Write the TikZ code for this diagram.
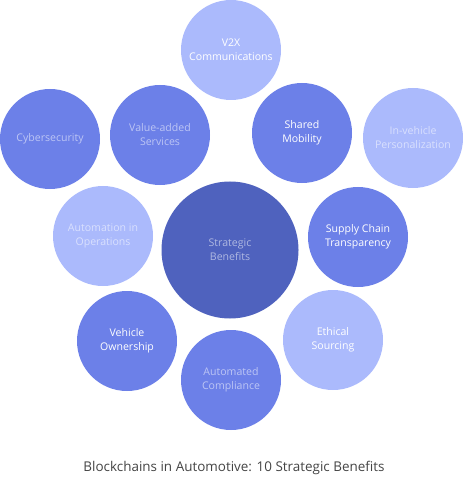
\documentclass[tikz,border=0pt]{standalone}
\usepackage{fontspec}
\setmainfont{Open Sans}
\usetikzlibrary{positioning}
\definecolor{paleblob}{HTML}{ABBAFC}
\definecolor{midblob}{HTML}{6C80E8}
\definecolor{coreblob}{HTML}{4F62BE}
\definecolor{captiongray}{HTML}{444444}

\begin{document}
\begin{tikzpicture}[x=1bp, y=-1bp, font=\fontsize{10.6}{14}\selectfont,
    blob/.style={circle, minimum size=100bp, inner sep=0pt, align=center, text=white},
    pale/.style={blob, fill=paleblob},
    mid/.style={blob, fill=midblob},
    palehazy/.style={pale, text opacity=.55},
    midhazy/.style={mid, text opacity=.55}]
    \useasboundingbox (0,0) rectangle (463,479);
    % outer benefits
    \foreach \x/\y/\n/\kind/\txt in {
        231/50/vtox/pale/{V2X\\Communications},
        50/139/cyber/midhazy/Cybersecurity,
        160/135/value/midhazy/{Value-added\\Services},
        302/133/shared/mid/{Shared\\Mobility},
        413/138/invehicle/palehazy/{In-vehicle\\Personalization},
        103/236/autoops/palehazy/{Automation in\\Operations},
        358/237/supply/mid/{Supply Chain\\Transparency},
        127/341/owner/mid/{Vehicle\\Ownership},
        231/380/comply/midhazy/{Automated\\Compliance},
        333/340/ethic/pale/{Ethical\\Sourcing}} {
      \node[\kind] (\n) at (\x,\y) {\txt};
    }
    % core
    \node[blob, text opacity=.55, fill=coreblob, minimum size=137bp] (core) at (230,250) {Strategic\\Benefits};
    \node[text=captiongray, font=\fontsize{13.5}{16}\selectfont] (caption) at (234,468) {Blockchains in Automotive: 10 Strategic Benefits};
\end{tikzpicture}
\end{document}
